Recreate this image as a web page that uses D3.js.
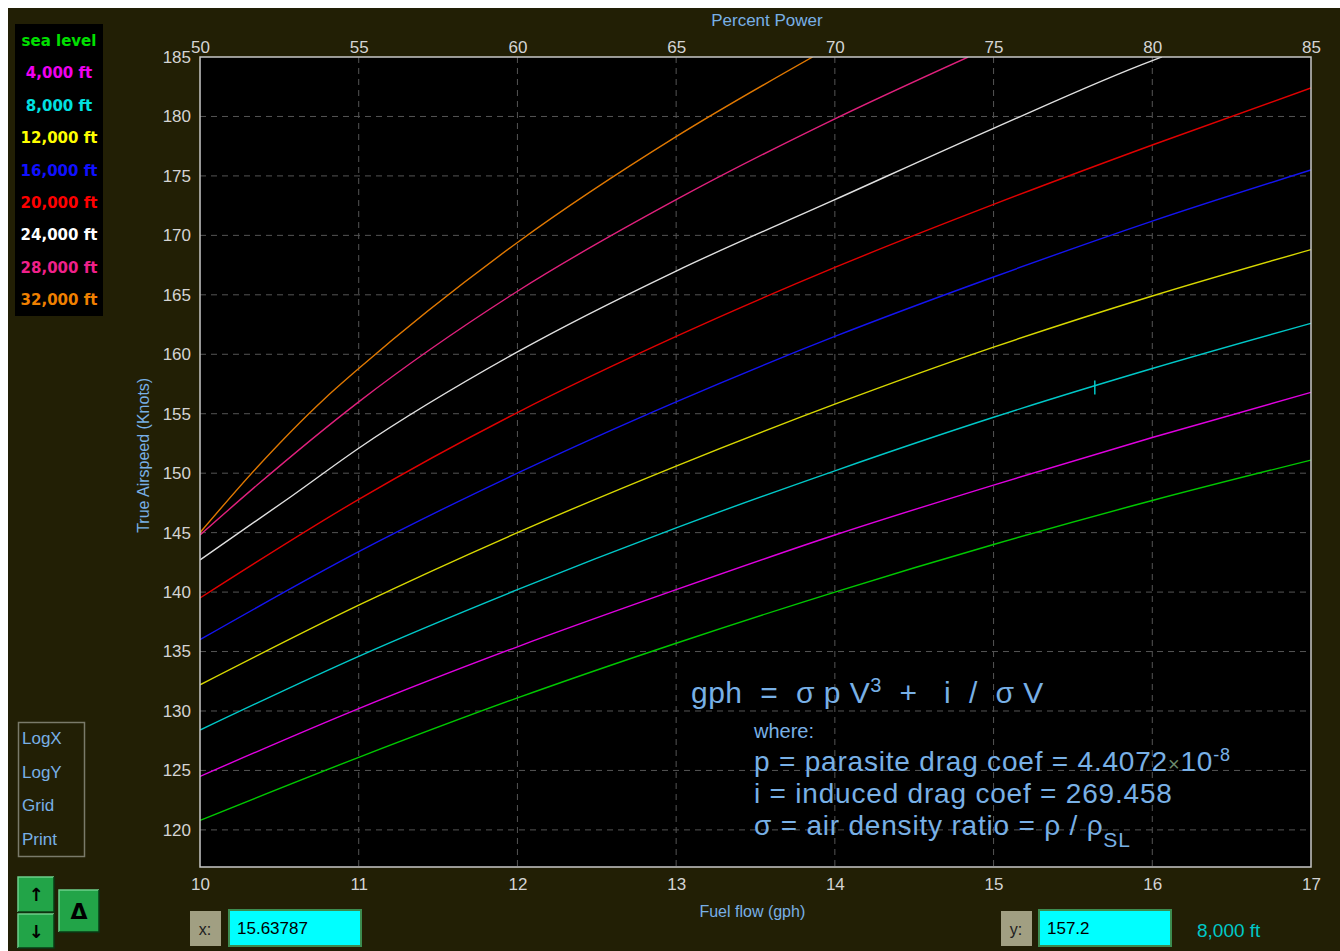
<!DOCTYPE html>
<html>
<head>
<meta charset="utf-8">
<script src="https://cdn.jsdelivr.net/npm/d3@7"></script>
<style>
  body { margin: 0; background: #fff; }
  svg { display: block; }
  text { font-family: "Liberation Sans", Arial, sans-serif; }
</style>
</head>
<body>
<div id="vis"></div>
<script>
const margin = { top: 57, right: 29, bottom: 84, left: 200 };
const width = 1340 - margin.left - margin.right;
const height = 951 - margin.top - margin.bottom;

// --- data ---
const altitudes = ['sea level', '4,000 ft', '8,000 ft', '12,000 ft', '16,000 ft', '20,000 ft', '24,000 ft', '28,000 ft', '32,000 ft'];
const lineColors = ['#00c800', '#e000e0', '#00c8c8', '#d8d800', '#1414f0', '#e00000', '#e0e0e0', '#e0207c', '#e07800'];
const labelColors = ['#00e000', '#f000f0', '#00e0e0', '#ffff00', '#1010ff', '#ff0000', '#ffffff', '#f0208a', '#f08000'];

const gphFull = [10, 11, 12, 13, 14, 15, 16, 17];
const tasSeaLevel = [120.8, 126.1, 131.1, 135.7, 140.0, 144.0, 147.7, 151.1];
const tas4000 = [124.5, 130.2, 135.4, 140.2, 144.8, 149.0, 153.0, 156.8];
const tas8000 = [128.4, 134.6, 140.2, 145.4, 150.2, 154.7, 158.8, 162.6];
const tas12000 = [132.2, 138.9, 145.0, 150.6, 155.8, 160.6, 164.9, 168.8];
const tas16000 = [136.0, 143.4, 150.0, 156.0, 161.5, 166.5, 171.2, 175.5];
const tas20000 = [139.5, 147.8, 155.1, 161.5, 167.3, 172.6, 177.6, 182.4];
const gph24000 = [10, 10.57, 11, 12, 13, 14, 15, 16, 16.06];
const tas24000 = [142.7, 148.0, 152.1, 160.2, 167.0, 173.0, 179.0, 184.7, 185.0];
const gph28000 = [10, 10.36, 11, 12, 13, 14, 14.84];
const tas28000 = [144.8, 149.0, 156.0, 165.3, 173.0, 179.8, 185.0];
const gph32000 = [10, 10.36, 10.78, 11, 12, 13, 13.86];
const tas32000 = [145.0, 150.5, 156.2, 158.8, 169.4, 178.3, 185.0];

const xTicks = [10, 11, 12, 13, 14, 15, 16, 17];
const powerTicks = [50, 55, 60, 65, 70, 75, 80, 85];
const yTicks = [120, 125, 130, 135, 140, 145, 150, 155, 160, 165, 170, 175, 180, 185];
const controls = ['LogX', 'LogY', 'Grid', 'Print'];

const cursorGph = 15.63787;
const cursorTas = 157.2;
const cursorAlt = '8,000 ft';

const seriesGph = [gphFull, gphFull, gphFull, gphFull, gphFull, gphFull, gph24000, gph28000, gph32000];
const seriesTas = [tasSeaLevel, tas4000, tas8000, tas12000, tas16000, tas20000, tas24000, tas28000, tas32000];

const series = altitudes.map((name, i) => ({
    name,
    color: lineColors[i],
    values: seriesGph[i].map((g, j) => ({ gph: g, tas: seriesTas[i][j] }))
}));

const BLUE_TEXT = '#78b0e6';
const TICK_TEXT = '#d4d4d4';

// --- SVG Setup ---
const root = d3.select("#vis")
    .append("svg")
        .attr("width", 1340)
        .attr("height", 951);

root.append("rect")
    .attr("x", 8).attr("y", 8)
    .attr("width", 1332).attr("height", 943)
    .attr("fill", "#221f05");

const svg = root.append("g")
    .attr("transform", `translate(${margin.left}, ${margin.top})`);

const xScale = d3.scaleLinear().domain([10, 17]).range([0, width]);
const topScale = d3.scaleLinear().domain([50, 85]).range([0, width]);
const yScale = d3.scaleLinear().domain([116.88, 185]).range([height, 0]);

svg.append("rect")
    .attr("width", width)
    .attr("height", height)
    .attr("fill", "#000");

svg.append("clipPath").attr("id", "plot-clip")
    .append("rect").attr("width", width).attr("height", height);

// grid
const gridGroup = svg.append("g").attr("class", "grid");
gridGroup.selectAll(".vgrid")
    .data(xTicks.slice(1, -1))
    .join("line")
        .attr("class", "vgrid")
        .attr("x1", d => xScale(d)).attr("x2", d => xScale(d))
        .attr("y1", 0).attr("y2", height)
        .attr("stroke", "#555")
        .attr("stroke-dasharray", "6,5");
gridGroup.selectAll(".hgrid")
    .data(yTicks.slice(0, -1))
    .join("line")
        .attr("class", "hgrid")
        .attr("x1", 0).attr("x2", width)
        .attr("y1", d => yScale(d)).attr("y2", d => yScale(d))
        .attr("stroke", "#555")
        .attr("stroke-dasharray", "6,5");

// curves
const line = d3.line()
    .x(d => xScale(d.gph))
    .y(d => yScale(d.tas))
    .curve(d3.curveMonotoneX);

svg.append("g")
    .attr("clip-path", "url(#plot-clip)")
    .selectAll(".curve")
    .data(series)
    .join("path")
        .attr("class", "curve")
        .attr("d", d => line(d.values))
        .attr("fill", "none")
        .attr("stroke", d => d.color)
        .attr("stroke-width", 1.4);

// cursor marker on the 8,000 ft line
const cx = xScale(cursorGph), cy = yScale(cursorTas);
svg.append("line")
    .attr("x1", cx - 2).attr("x2", cx + 4)
    .attr("y1", cy + 1).attr("y2", cy + 1)
    .attr("stroke", "#000").attr("stroke-width", 3);
svg.append("line")
    .attr("x1", cx).attr("x2", cx)
    .attr("y1", cy - 7).attr("y2", cy + 7)
    .attr("stroke", "#00c8c8").attr("stroke-width", 1.5);

// plot border
svg.append("rect")
    .attr("width", width)
    .attr("height", height)
    .attr("fill", "none")
    .attr("stroke", "#c8c8c8")
    .attr("stroke-width", 1.5);

// axes
const yAxis = svg.append("g")
    .call(d3.axisLeft(yScale).tickValues(yTicks).tickSize(0).tickPadding(9));
const xAxis = svg.append("g")
    .attr("transform", `translate(0, ${height})`)
    .call(d3.axisBottom(xScale).tickValues(xTicks).tickSize(0).tickPadding(11).tickFormat(d3.format("d")));
const topAxis = svg.append("g")
    .call(d3.axisTop(topScale).tickValues(powerTicks).tickSize(0).tickPadding(4).tickFormat(d3.format("d")));

[yAxis, xAxis, topAxis].forEach(a => {
    a.select(".domain").remove();
    a.selectAll("text")
        .attr("fill", TICK_TEXT)
        .style("font-size", "17px")
        .style("font-family", '"Liberation Sans", Arial, sans-serif');
});

// axis titles
svg.append("text")
    .attr("x", topScale(67.86)).attr("y", -31)
    .attr("text-anchor", "middle")
    .attr("fill", BLUE_TEXT)
    .style("font-size", "17px")
    .text("Percent Power");

svg.append("text")
    .attr("x", xScale(13.48)).attr("y", height + 50)
    .attr("text-anchor", "middle")
    .attr("fill", BLUE_TEXT)
    .style("font-size", "16px")
    .text("Fuel flow (gph)");

svg.append("text")
    .attr("transform", `translate(-51, ${yScale(151.5)}) rotate(-90)`)
    .attr("text-anchor", "middle")
    .attr("fill", BLUE_TEXT)
    .style("font-size", "16px")
    .text("True Airspeed (Knots)");

// formula
const formula = svg.append("g").attr("fill", BLUE_TEXT);
const f1 = formula.append("text")
    .attr("x", 491).attr("y", 646)
    .style("font-size", "30px")
    .style("letter-spacing", "0.5px")
    .attr("xml:space", "preserve");
f1.append("tspan").text("gph  =  \u03c3 p V");
f1.append("tspan").attr("baseline-shift", "super").style("font-size", "20px").text("3");
f1.append("tspan").text("  +   i  /  \u03c3 V");

formula.append("text")
    .attr("x", 554).attr("y", 681)
    .style("font-size", "20px")
    .text("where:");

const f2 = formula.append("text")
    .attr("x", 554).attr("y", 714)
    .style("font-size", "28px")
    .style("letter-spacing", "0.8px");
f2.append("tspan").text("p = parasite drag coef = 4.4072");
f2.append("tspan").attr("fill", "#6a8a6a").style("font-size", "20px").text("\u00d7");
f2.append("tspan").text("10");
f2.append("tspan").attr("baseline-shift", "super").style("font-size", "18px").text("-8");

formula.append("text")
    .attr("x", 554).attr("y", 746)
    .style("font-size", "28px")
    .style("letter-spacing", "0.8px")
    .text("i = induced drag coef = 269.458");

const f4 = formula.append("text")
    .attr("x", 554).attr("y", 778)
    .style("font-size", "28px")
    .style("letter-spacing", "0.8px");
f4.append("tspan").text("\u03c3 = air density ratio = \u03c1 / \u03c1");
f4.append("tspan").attr("baseline-shift", "sub").style("font-size", "21px").text("SL");

// legend
const legend = root.append("g");
legend.append("rect")
    .attr("x", 15).attr("y", 24)
    .attr("width", 88).attr("height", 292)
    .attr("fill", "#000");
legend.selectAll(".legend-item")
    .data(altitudes)
    .join("text")
        .attr("class", "legend-item")
        .attr("x", 59)
        .attr("y", (d, i) => 46 + i * 32.4)
        .attr("text-anchor", "middle")
        .attr("fill", (d, i) => labelColors[i])
        .style("font-family", '"DejaVu Sans", Verdana, sans-serif')
        .style("font-weight", "bold")
        .style("font-size", "15px")
        .text(d => d);

// control panel
root.append("rect")
    .attr("x", 18.5).attr("y", 722.5)
    .attr("width", 66).attr("height", 134)
    .attr("fill", "none")
    .attr("stroke", "#7a7a6a")
    .attr("stroke-width", 1.5);
root.selectAll(".ctrl")
    .data(controls)
    .join("text")
        .attr("class", "ctrl")
        .attr("x", 22)
        .attr("y", (d, i) => 744 + i * 33.5)
        .attr("fill", BLUE_TEXT)
        .style("font-size", "17px")
        .text(d => d);

function button(x, y, w, h, label, size) {
    const g = root.append("g");
    g.append("rect").attr("x", x).attr("y", y).attr("width", w).attr("height", h).attr("fill", "#22a448");
    g.append("path").attr("d", `M${x},${y + h}V${y}H${x + w}`).attr("fill", "none").attr("stroke", "#6cd08a").attr("stroke-width", 1.5);
    g.append("path").attr("d", `M${x + w},${y}V${y + h}H${x}`).attr("fill", "none").attr("stroke", "#0a3a14").attr("stroke-width", 1.5);
    g.append("text")
        .attr("x", x + w / 2).attr("y", y + h / 2)
        .attr("text-anchor", "middle")
        .attr("dominant-baseline", "central")
        .attr("fill", "#000")
        .style("font-family", '"DejaVu Sans", sans-serif')
        .style("font-weight", "bold")
        .style("font-size", size)
        .text(label);
}
button(18, 877, 36, 35, "\u2191", "18px");
button(18, 914, 36, 34, "\u2193", "18px");
button(59, 890, 40, 42, "\u0394", "22px");

// x / y readouts
function readout(lx, bx, label, value) {
    root.append("rect").attr("x", lx).attr("y", 911).attr("width", 31).attr("height", 35).attr("fill", "#a19f82");
    root.append("text")
        .attr("x", lx + 15).attr("y", 929)
        .attr("text-anchor", "middle")
        .attr("dominant-baseline", "central")
        .attr("fill", "#202020")
        .style("font-size", "16px")
        .text(label);
    root.append("rect").attr("x", bx).attr("y", 910).attr("width", 132).attr("height", 36)
        .attr("fill", "#00ffff").attr("stroke", "#3c8c50").attr("stroke-width", 2);
    root.append("text")
        .attr("x", bx + 8).attr("y", 934)
        .attr("fill", "#000")
        .style("font-size", "17px")
        .text(value);
}
readout(190, 229, "x:", String(cursorGph));
readout(1001, 1039, "y:", String(cursorTas));

root.append("text")
    .attr("x", 1197).attr("y", 937)
    .attr("fill", "#00c8c8")
    .style("font-size", "19px")
    .text(cursorAlt);
</script>
</body>
</html>
